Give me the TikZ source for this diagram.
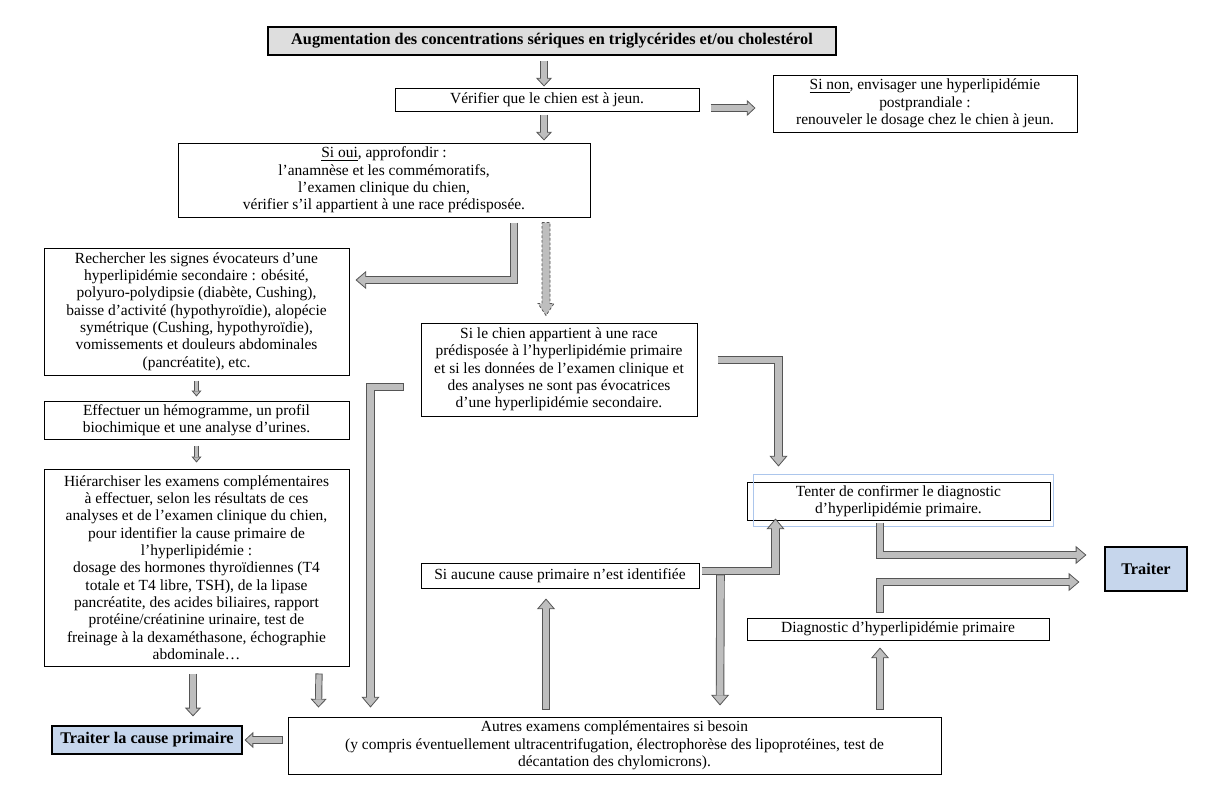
\documentclass[tikz,border=0pt]{standalone}
\usepackage{fontspec}
\setmainfont{Liberation Serif}
\usetikzlibrary{arrows.meta}
\usetikzlibrary{calc}

\definecolor{grisfl}{RGB}{190,190,190}
\definecolor{contour}{RGB}{85,85,85}
\definecolor{bleuclair}{RGB}{198,214,236}
\definecolor{gristitre}{RGB}{222,222,222}
\definecolor{cadrebleu}{RGB}{172,198,236}

\newcommand{\corps}{\fontsize{11.6}{13}\selectfont}
\newcommand{\corpsgras}{\fontsize{12.2}{13}\selectfont\bfseries}

\tikzset{
  boite/.style={draw, line width=0.75pt, align=center, inner sep=1pt, font=\corps},
  boitebleue/.style={boite, fill=bleuclair, line width=0.9pt, font=\corpsgras},
  fleche/.style={draw=contour, line width=6.4pt, line join=miter,
    -{Triangle[length=8pt, width=13.5pt, fill=grisfl, line width=0.6pt]},
    postaction={draw=grisfl, line width=5pt, -, shorten >=7.4pt, shorten <=0.6pt}},
  moyenne/.style={draw=contour, line width=5.4pt, line join=miter,
    -{Triangle[length=6.5pt, width=12pt, fill=grisfl, line width=0.6pt]},
    postaction={draw=grisfl, line width=4pt, -, shorten >=5.9pt, shorten <=0.6pt}},
  petite/.style={draw=contour, line width=3.6pt,
    -{Triangle[length=4.5pt, width=7.5pt, fill=grisfl, line width=0.6pt]},
    postaction={draw=grisfl, line width=2.3pt, -, shorten >=4pt, shorten <=0.6pt}},
  pointille/.style={draw=contour, fill=grisfl, line width=0.6pt, dash pattern=on 2pt off 1.5pt},
}

\begin{document}
\begin{tikzpicture}[x=0.75pt,y=0.75pt,yscale=-1,xscale=1]
\useasboundingbox (0,0) rectangle (1214,793);

% Text Node
\node [boite, fill=gristitre, line width=1pt, font=\corpsgras, minimum width=426pt, minimum height=21pt] (titre) at (552,41) {Augmentation des concentrations sériques en triglycérides et/ou cholestérol};
% Text Node
\node [boite, minimum width=228pt, minimum height=17.25pt] (jeun) at (547,99.5) {Vérifier que le chien est à jeun.};
% Text Node
\node [boite, minimum width=228pt, minimum height=42.75pt] (sinon) at (925,103.5) {\underline{Si non}, envisager une hyperlipidémie\\postprandiale :\\renouveler le dosage chez le chien à jeun.};
% Text Node
\node [boite, minimum width=309pt, minimum height=55.5pt] (sioui) at (384,180) {\underline{Si oui}, approfondir :\\l’anamnèse et les commémoratifs,\\l’examen clinique du chien,\\vérifier s’il appartient à une race prédisposée.};
% Text Node
\node [boite, minimum width=228.75pt, minimum height=95.25pt] (signes) at (196.5,311.5) {Rechercher les signes évocateurs d’une\\hyperlipidémie secondaire : obésité,\\polyuro-polydipsie (diabète, Cushing),\\baisse d’activité (hypothyroïdie), alopécie\\symétrique (Cushing, hypothyroïdie),\\vomissements et douleurs abdominales\\(pancréatite), etc.};
% Text Node
\node [boite, minimum width=228.75pt, minimum height=28.5pt] (bilan) at (196.5,420) {Effectuer un hémogramme, un profil\\biochimique et une analyse d’urines.};
% Text Node
\node [boite, minimum width=228.75pt, minimum height=147.75pt] (hierarch) at (196.5,567.5) {Hiérarchiser les examens complémentaires\\à effectuer, selon les résultats de ces\\analyses et de l’examen clinique du chien,\\pour identifier la cause primaire de\\l’hyperlipidémie :\\dosage des hormones thyroïdiennes (T4\\totale et T4 libre, TSH), de la lipase\\pancréatite, des acides biliaires, rapport\\protéine/créatinine urinaire, test de\\freinage à la dexaméthasone, échographie\\abdominale…};
% Text Node
\node [boitebleue, minimum width=142.5pt, minimum height=21pt] (causeI) at (147,740) {Traiter la cause primaire};
% Text Node
\node [boite, minimum width=489.75pt, minimum height=42.75pt] (autres) at (614.5,745.5) {Autres examens complémentaires si besoin\\(y compris éventuellement ultracentrifugation, électrophorèse des lipoprotéines, test de\\décantation des chylomicrons).};
% Text Node
\node [boite, minimum width=207pt, minimum height=69.75pt] (race) at (559,369.5) {Si le chien appartient à une race\\prédisposée à l’hyperlipidémie primaire\\et si les données de l’examen clinique et\\des analyses ne sont pas évocatrices\\d’une hyperlipidémie secondaire.};
% Text Node
\node [boite, minimum width=227.25pt, minimum height=28.5pt] (tenter) at (898.5,501) {Tenter de confirmer le diagnostic\\d’hyperlipidémie primaire.};
% Text Node
\node [boitebleue, minimum width=61.5pt, minimum height=33pt] (traiter) at (1146,569) {Traiter};
% Text Node
\node [boite, minimum width=226.5pt, minimum height=16.5pt] (diag) at (898,629) {Diagnostic d’hyperlipidémie primaire};
% Text Node
\node [boite, minimum width=208.5pt, minimum height=18.75pt] (aucune) at (560,575.5) {Si aucune cause primaire n’est identifiée};

%Shape: Rectangle (cadre autour de tenter)
\draw [cadrebleu, line width=0.5pt] ($(tenter.north west)+(7,-7)$) rectangle ($(tenter.south east)+(3,6)$);

%Block Arrows
\draw [moyenne] ($(titre.south)+(-8,5)$) -- ($(jeun.north)+(-3,-1)$);
\draw [moyenne] ($(jeun.south)+(-3,3)$) -- ($(sioui.north)+(160,-2)$);
\draw [moyenne] ($(jeun.east)+(11,8.5)$) -- ($(sinon.west)+(-17,4.5)$);
\draw [fleche] ($(sioui.south)+(130,5)$) |- ($(signes.east)+(6,-31.5)$);
\draw [petite] ($(signes.south)+(0,5)$) -- ($(bilan.north)+(0,-4)$);
\draw [petite] ($(bilan.south)+(0,6)$) -- ($(hierarch.north)+(0,-6)$);
\draw [moyenne] ($(hierarch.south)+(-3.5,7)$) -- ($(causeI.north)+(46,-9)$);
\draw [moyenne] ($(hierarch.south)+(122.5,7)$) -- ($(autres.north west)+(31,-9)$);
\draw [moyenne] ($(autres.west)+(-5,-5.5)$) -- ($(causeI.east)+(2,0)$);
\draw [fleche] ($(race.west)+(-17,17.5)$) -| ($(autres.north west)+(83,-9)$);
\draw [fleche] ($(race.east)+(20,-9.5)$) -| ($(tenter.north west)+(32,-15)$);
\draw [fleche] ($(tenter.south)+(-18.5,2)$) |- ($(traiter.west)+(-18,-14)$);
\draw [fleche] ($(diag.north)+(-18,-5)$) |- ($(traiter.west)+(-25,13)$);
\draw [fleche] ($(autres.north)+(265.5,-7)$) -- ($(diag.south)+(-18,7)$);
\draw [fleche] ($(autres.north)+(-68.5,-7)$) -- ($(aucune.south)+(-14,10)$);
\draw [fleche] ($(aucune.east)+(2,-4.5)$) -| ($(tenter.south west)+(29,-2)$);
\draw [fleche] ($(aucune.east)+(21,-1)$) -- ($(autres.north)+(105.5,-11)$);

%Dashed Arrow
\coordinate (d0) at ($(sioui.south)+(162,5)$);
\coordinate (d1) at ($(race.north)+(-13,-7)$);
\draw [pointille] ($(d0)+(-4,0)$) -- ($(d0)+(4,0)$) -- ($(d1)+(4,-12)$) -- ($(d1)+(8,-12)$) -- (d1) -- ($(d1)+(-8,-12)$) -- ($(d1)+(-4,-12)$) -- cycle;

\end{tikzpicture}
\end{document}
